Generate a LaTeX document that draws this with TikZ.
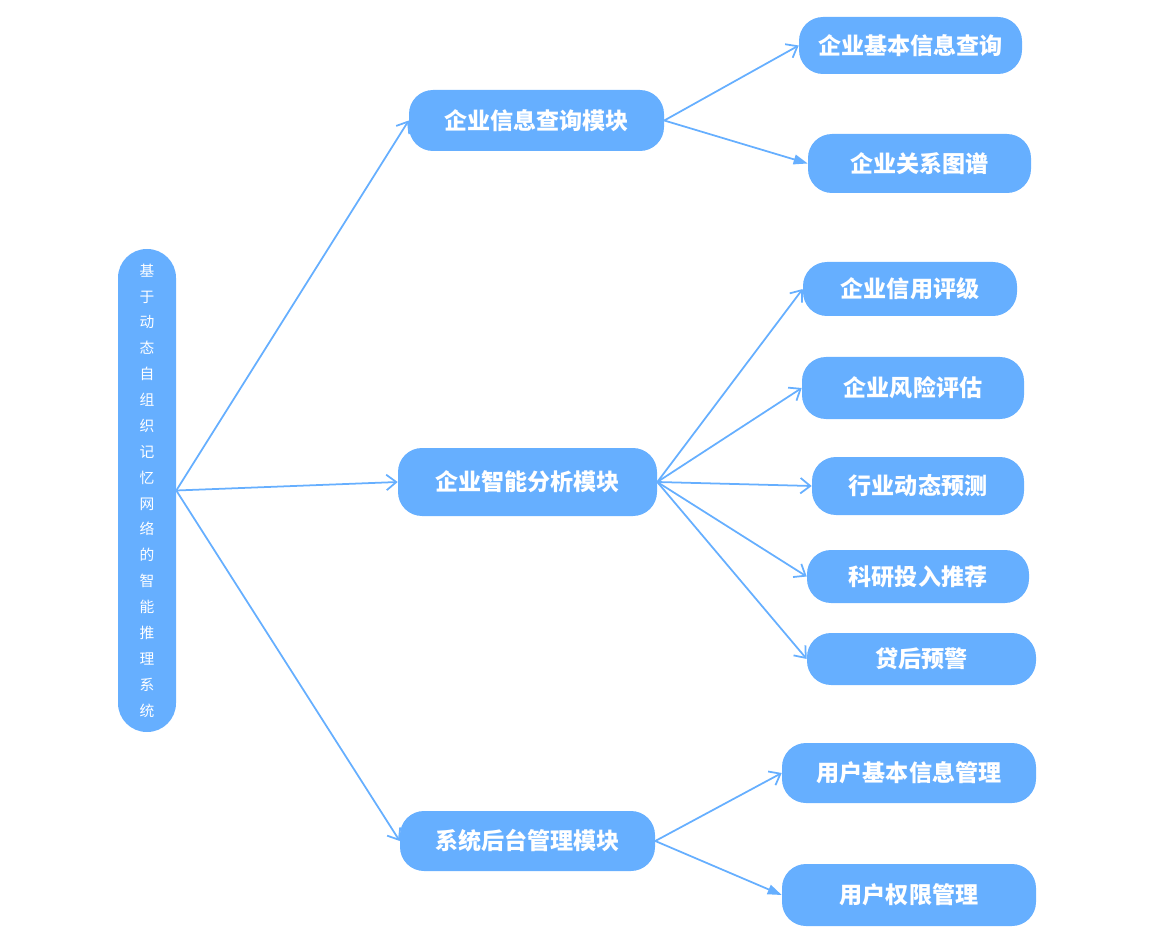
\documentclass[tikz,border=0pt]{standalone}
\usepackage{fontspec}
\setmainfont{Noto Sans CJK SC}
\usetikzlibrary{arrows.meta,positioning,calc}
\definecolor{SysBlue}{HTML}{66AFFF}
\tikzset{box/.style={fill=SysBlue,text=white,rounded corners=0.6cm,align=center,inner sep=0pt,font=\fontsize{16.4}{18}\selectfont\bfseries},
  arr/.style={-{Straight Barb[length=7pt,width=11pt]},line width=1.25pt,SysBlue},
  farr/.style={-{Triangle[length=10pt,width=7pt]},line width=1.25pt,SysBlue}}

\begin{document}
\begin{tikzpicture}[x=0.025cm,y=-0.025cm,
    root/.style={fill=SysBlue,text=white,rounded corners=0.72cm,align=center,inner sep=0pt,
      minimum width=58*0.025cm,minimum height=483*0.025cm,font=\fontsize{10.5}{18.4}\selectfont}]
\useasboundingbox (0,0) rectangle (1160,939);

% root
\node[root] (sys) at (147,490.5) {基\\于\\动\\态\\自\\组\\织\\记\\忆\\网\\络\\的\\智\\能\\推\\理\\系\\统};

% modules
\node[box, minimum width=255*0.025cm, minimum height=61*0.025cm] (query) at (536.5,120.5) {企业信息查询模块};
\node[box, minimum width=259*0.025cm, minimum height=68*0.025cm] (analysis) at (527.5,482) {企业智能分析模块};
\node[box, minimum width=255*0.025cm, minimum height=60*0.025cm] (admin) at (527.5,841) {系统后台管理模块};

% query leaves
\node[box, minimum width=223*0.025cm, minimum height=57*0.025cm] (basic) at (910.5,45.5) {企业基本信息查询};
\node[box, minimum width=223*0.025cm, minimum height=59*0.025cm] (graph) at (919.5,163.5) {企业关系图谱};

% analysis leaves
\node[box, minimum width=214*0.025cm, minimum height=54*0.025cm] (credit) at (910,289) {企业信用评级};
\node[box, minimum width=222*0.025cm, minimum height=62*0.025cm] (risk) at (913,388) {企业风险评估};
\node[box, minimum width=212*0.025cm, minimum height=58*0.025cm] (trend) at (918,486) {行业动态预测};
\node[box, minimum width=222*0.025cm, minimum height=53*0.025cm] (rnd) at (918,576.5) {科研投入推荐};
\node[box, minimum width=229*0.025cm, minimum height=52*0.025cm] (loan) at (921.5,659) {贷后预警};

% admin leaves
\node[box, minimum width=254*0.025cm, minimum height=60*0.025cm] (user) at (909,773) {用户基本信息管理};
\node[box, minimum width=254*0.025cm, minimum height=62*0.025cm] (perm) at (909,895) {用户权限管理};

% arrows
\draw[arr] (sys.east) -- (query.west);
\draw[arr] (sys.east) -- (analysis.west);
\draw[arr] (sys.east) -- (admin.west);

\draw[arr] (query.east) -- (basic.west);
\draw[farr] (query.east) -- (graph.west);

\draw[arr] (analysis.east) -- (credit.west);
\draw[arr] (analysis.east) -- (risk.west);
\draw[arr] (analysis.east) -- (trend.west);
\draw[arr] (analysis.east) -- (rnd.west);
\draw[arr] (analysis.east) -- (loan.west);

\draw[arr] (admin.east) -- (user.west);
\draw[farr] (admin.east) -- (perm.west);
\end{tikzpicture}
\end{document}
